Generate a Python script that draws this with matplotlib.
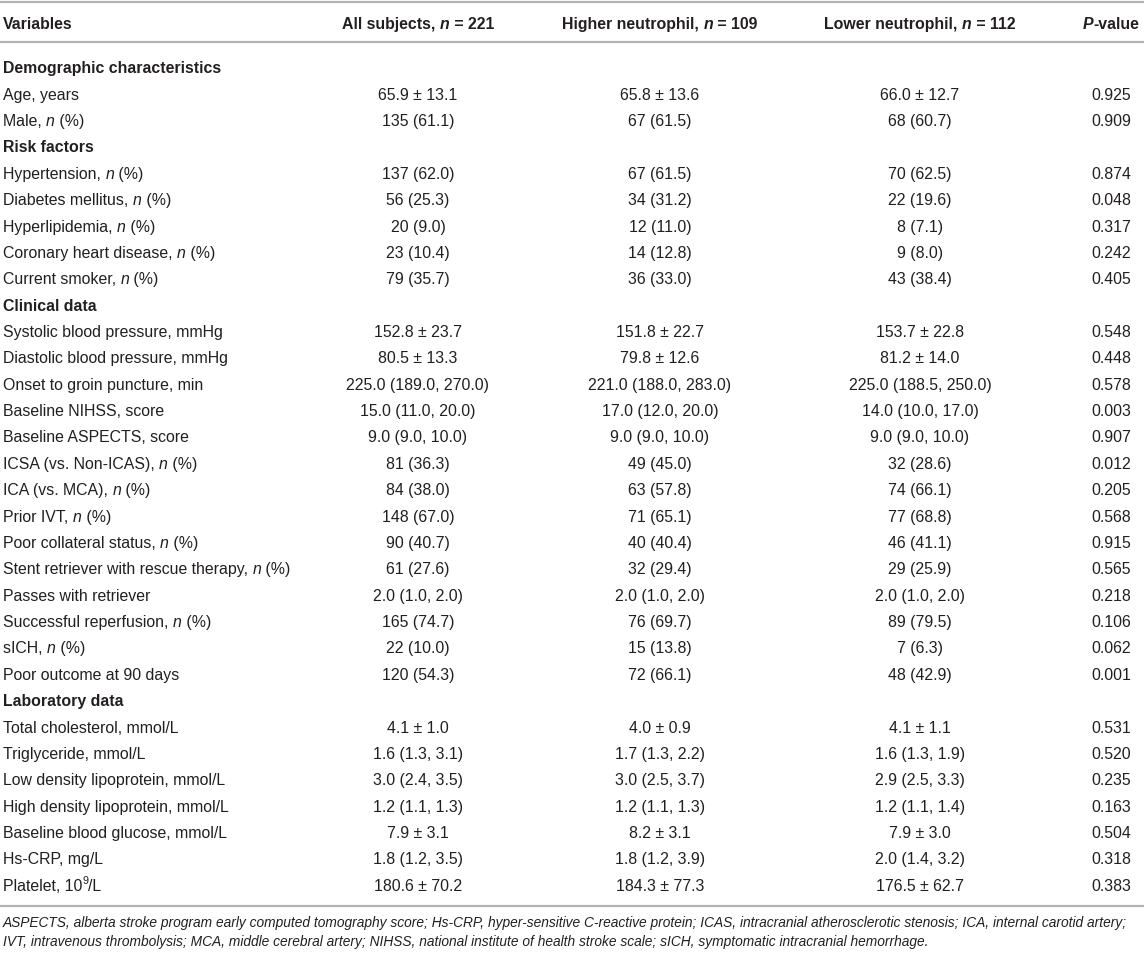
import re
import matplotlib
matplotlib.use("Agg")
import matplotlib.pyplot as plt

# ---------------- data ----------------
headers = ["Variables", "All subjects, _n_ = 221", "Higher neutrophil, _n_ = 109",
           "Lower neutrophil, _n_ = 112", "_P_-value"]

# (label, all, higher, lower, p) ; section rows have None values
rows = [
    ("Demographic characteristics", None, None, None, None),
    ("Age, years", "65.9 ± 13.1", "65.8 ± 13.6", "66.0 ± 12.7", "0.925"),
    ("Male, _n_ (%)", "135 (61.1)", "67 (61.5)", "68 (60.7)", "0.909"),
    ("Risk factors", None, None, None, None),
    ("Hypertension, _n_ (%)", "137 (62.0)", "67 (61.5)", "70 (62.5)", "0.874"),
    ("Diabetes mellitus, _n_ (%)", "56 (25.3)", "34 (31.2)", "22 (19.6)", "0.048"),
    ("Hyperlipidemia, _n_ (%)", "20 (9.0)", "12 (11.0)", "8 (7.1)", "0.317"),
    ("Coronary heart disease, _n_ (%)", "23 (10.4)", "14 (12.8)", "9 (8.0)", "0.242"),
    ("Current smoker, _n_ (%)", "79 (35.7)", "36 (33.0)", "43 (38.4)", "0.405"),
    ("Clinical data", None, None, None, None),
    ("Systolic blood pressure, mmHg", "152.8 ± 23.7", "151.8 ± 22.7", "153.7 ± 22.8", "0.548"),
    ("Diastolic blood pressure, mmHg", "80.5 ± 13.3", "79.8 ± 12.6", "81.2 ± 14.0", "0.448"),
    ("Onset to groin puncture, min", "225.0 (189.0, 270.0)", "221.0 (188.0, 283.0)", "225.0 (188.5, 250.0)", "0.578"),
    ("Baseline NIHSS, score", "15.0 (11.0, 20.0)", "17.0 (12.0, 20.0)", "14.0 (10.0, 17.0)", "0.003"),
    ("Baseline ASPECTS, score", "9.0 (9.0, 10.0)", "9.0 (9.0, 10.0)", "9.0 (9.0, 10.0)", "0.907"),
    ("ICSA (vs. Non-ICAS), _n_ (%)", "81 (36.3)", "49 (45.0)", "32 (28.6)", "0.012"),
    ("ICA (vs. MCA), _n_ (%)", "84 (38.0)", "63 (57.8)", "74 (66.1)", "0.205"),
    ("Prior IVT, _n_ (%)", "148 (67.0)", "71 (65.1)", "77 (68.8)", "0.568"),
    ("Poor collateral status, _n_ (%)", "90 (40.7)", "40 (40.4)", "46 (41.1)", "0.915"),
    ("Stent retriever with rescue therapy, _n_ (%)", "61 (27.6)", "32 (29.4)", "29 (25.9)", "0.565"),
    ("Passes with retriever", "2.0 (1.0, 2.0)", "2.0 (1.0, 2.0)", "2.0 (1.0, 2.0)", "0.218"),
    ("Successful reperfusion, _n_ (%)", "165 (74.7)", "76 (69.7)", "89 (79.5)", "0.106"),
    ("sICH, _n_ (%)", "22 (10.0)", "15 (13.8)", "7 (6.3)", "0.062"),
    ("Poor outcome at 90 days", "120 (54.3)", "72 (66.1)", "48 (42.9)", "0.001"),
    ("Laboratory data", None, None, None, None),
    ("Total cholesterol, mmol/L", "4.1 ± 1.0", "4.0 ± 0.9", "4.1 ± 1.1", "0.531"),
    ("Triglyceride, mmol/L", "1.6 (1.3, 3.1)", "1.7 (1.3, 2.2)", "1.6 (1.3, 1.9)", "0.520"),
    ("Low density lipoprotein, mmol/L", "3.0 (2.4, 3.5)", "3.0 (2.5, 3.7)", "2.9 (2.5, 3.3)", "0.235"),
    ("High density lipoprotein, mmol/L", "1.2 (1.1, 1.3)", "1.2 (1.1, 1.3)", "1.2 (1.1, 1.4)", "0.163"),
    ("Baseline blood glucose, mmol/L", "7.9 ± 3.1", "8.2 ± 3.1", "7.9 ± 3.0", "0.504"),
    ("Hs-CRP, mg/L", "1.8 (1.2, 3.5)", "1.8 (1.2, 3.9)", "2.0 (1.4, 3.2)", "0.318"),
    ("Platelet, 10^9^/L", "180.6 ± 70.2", "184.3 ± 77.3", "176.5 ± 62.7", "0.383"),
]

footnotes = [
    "ASPECTS, alberta stroke program early computed tomography score; Hs-CRP, hyper-sensitive "
    "C-reactive protein; ICAS, intracranial atherosclerotic stenosis; ICA, internal carotid artery;",
    "IVT, intravenous thrombolysis; MCA, middle cerebral artery; NIHSS, national institute of "
    "health stroke scale; sICH, symptomatic intracranial hemorrhage.",
]

# ---------------- layout ----------------
W, H = 1144, 954
FONT = "Liberation Sans"
FS = 11.4            # pt  (~15.8 px at 100 dpi)
PX = 100 / 72.0
TXT = "#231f20"
LINE = "#b3b3b3"
col_x = [3, 418, 660, 920, 1111]
header_y = 23
row_y0, row_dy = 67.6, 26.37
line_ys = [3, 43, 907]
foot_y = [922, 941]

fig = plt.figure(figsize=(W / 100, H / 100), dpi=100)
ax = fig.add_axes([0, 0, 1, 1])
ax.set_xlim(0, W)
ax.set_ylim(H, 0)
ax.axis("off")
renderer = fig.canvas.get_renderer()


def measure(s, **kw):
    t = ax.text(0, 0, "|" + s + "|", **kw)
    w1 = t.get_window_extent(renderer).width
    t.remove()
    t = ax.text(0, 0, "||", **kw)
    w2 = t.get_window_extent(renderer).width
    t.remove()
    return w1 - w2


def parse(markup, bold=False, size=FS):
    segs = []
    for part in re.split(r"(_[^_]+_|\^[^^]+\^)", markup):
        if not part:
            continue
        kw = dict(family=FONT, fontsize=size, fontweight="bold" if bold else "normal",
                  fontstyle="normal", color=TXT)
        dy = 0.0
        if part.startswith("_") and part.endswith("_"):
            part = part[1:-1]
            kw["fontstyle"] = "italic"
        elif part.startswith("^") and part.endswith("^"):
            part = part[1:-1]
            kw["fontsize"] = size * 0.68
            dy = -0.42 * size * PX
        segs.append((part, kw, dy))
    return segs


def draw(markup, x, yc, ha="left", bold=False, size=FS):
    segs = parse(markup, bold, size)
    widths = [measure(s, **kw) for s, kw, _ in segs]
    total = sum(widths)
    if ha == "center":
        x0 = x - total / 2
    elif ha == "right":
        x0 = x - total
    else:
        x0 = x
    base = yc + 0.36 * size * PX
    for (s, kw, dy), w in zip(segs, widths):
        ax.text(x0, base + dy, s, ha="left", va="baseline", **kw)
        x0 += w


# header
for i, h in enumerate(headers):
    draw(h, col_x[i], header_y, ha="left" if i == 0 else "center", bold=True)

# rows
for r, (label, a, hi, lo, p) in enumerate(rows):
    yc = row_y0 + r * row_dy
    if a is None:
        draw(label, col_x[0], yc, bold=True)
        continue
    draw(label, col_x[0], yc)
    for j, v in enumerate([a, hi, lo, p]):
        draw(v, col_x[j + 1], yc, ha="center")

# rules
for ly in line_ys:
    ax.plot([0, W], [ly, ly], color=LINE, lw=1.6, solid_capstyle="butt")

# footnotes: size fitted so the first line spans the width
target = 1136 - 3
fs_f = 10.6
wf = measure(footnotes[0], family=FONT, fontsize=fs_f, fontstyle="italic")
fs_f = fs_f * target / wf
for k, fn in enumerate(footnotes):
    ax.text(3, foot_y[k] + 0.36 * fs_f * PX, fn, family=FONT, fontsize=fs_f,
            fontstyle="italic", color=TXT, ha="left", va="baseline")

fig.savefig("out.png", dpi=100)
